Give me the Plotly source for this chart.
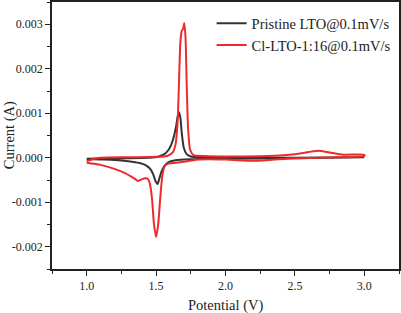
import plotly.graph_objects as go

# Pristine LTO: forward (oxidation) scan then reverse (reduction) scan
pristine_v = [1.00, 1.10, 1.30, 1.45, 1.52, 1.56, 1.59, 1.61, 1.63, 1.645, 1.655, 1.665, 1.675, 1.685, 1.70, 1.72, 1.75, 1.85, 2.0, 2.5, 3.0,
              3.0, 2.5, 2.0, 1.8, 1.7, 1.63, 1.59, 1.56, 1.54, 1.525, 1.51, 1.495, 1.48, 1.46, 1.44, 1.42, 1.38, 1.3, 1.2, 1.1, 1.0]
pristine_i = [-0.00002, -0.00001, -0.00001, 0.0, 0.00003, 0.00008, 0.00018, 0.0003, 0.0005, 0.00072, 0.00092, 0.00102, 0.0009, 0.00055, 0.00022, 0.00008, 0.00003, 0.00001, 0.0, 0.0, 0.00001,
              0.00001, -0.00001, -0.00002, -0.00003, -0.00004, -0.00006, -0.0001, -0.00018, -0.0003, -0.00045, -0.00059, -0.00052, -0.00038, -0.00026, -0.0002, -0.00016, -0.00012, -0.00008, -0.00005, -0.00004, -0.00003]

# Cl-LTO-1:16
cl_v = [1.00, 1.05, 1.10, 1.30, 1.50, 1.58, 1.62, 1.64, 1.655, 1.665, 1.675, 1.685, 1.695, 1.703, 1.712, 1.72, 1.73, 1.745, 1.77, 1.85, 2.0, 2.3, 2.5, 2.6, 2.67, 2.75, 2.85, 3.0,
        3.0, 2.8, 2.5, 2.35, 2.2, 2.0, 1.8, 1.7, 1.62, 1.58, 1.56, 1.545, 1.53, 1.515, 1.50, 1.485, 1.47, 1.455, 1.44, 1.42, 1.40, 1.37, 1.34, 1.28, 1.2, 1.1, 1.0]
cl_i = [-0.00008, -0.00003, 0.0, 0.00001, 0.00002, 0.00004, 0.00012, 0.0003, 0.0008, 0.0017, 0.0026, 0.00285, 0.0029, 0.00303, 0.0027, 0.0017, 0.0007, 0.00018, 0.00006, 0.00004, 0.00003, 0.00004, 0.00008, 0.00013, 0.00016, 0.00012, 0.00007, 0.00007,
        0.00004, 0.00001, -0.00001, -0.00004, -0.00007, -0.00004, -0.00004, -0.00009, -0.00012, -0.00014, -0.0002, -0.0004, -0.0009, -0.0015, -0.00178, -0.0015, -0.0009, -0.00058, -0.00047, -0.00046, -0.00048, -0.00052, -0.00046, -0.00035, -0.00025, -0.00016, -0.00011]

series_names = ["Pristine LTO@0.1mV/s", "Cl-LTO-1:16@0.1mV/s"]
series_colors = ["#333333", "#ee2a2a"]

x_tickvals = [1.0, 1.5, 2.0, 2.5, 3.0]
x_ticktext = ["1.0", "1.5", "2.0", "2.5", "3.0"]
y_tickvals = [-0.002, -0.001, 0.0, 0.001, 0.002, 0.003]
y_ticktext = ["-0.002", "-0.001", "0.000", "0.001", "0.002", "0.003"]

font_family = "Liberation Serif, Times New Roman, serif"

fig = go.Figure()
for v, i, name, color in [(pristine_v, pristine_i, series_names[0], series_colors[0]),
                          (cl_v, cl_i, series_names[1], series_colors[1])]:
    fig.add_trace(go.Scatter(x=v, y=i, mode="lines", name=name,
                             line=dict(color=color, width=2, shape="spline", smoothing=0.6)))

axis_common = dict(showline=True, linecolor="#222", linewidth=1.5, mirror=True,
                   ticks="outside", ticklen=5, tickwidth=1, tickcolor="#222",
                   showgrid=False, zeroline=False, automargin=False,
                   tickfont=dict(family=font_family, size=12, color="#222"))

fig.update_xaxes(range=[0.75, 3.25], tickvals=x_tickvals, ticktext=x_ticktext,
                 minor=dict(ticks="outside", ticklen=3, dtick=0.25, tick0=0.75, tickcolor="#222", showgrid=False),
                 **axis_common)
fig.update_yaxes(range=[-0.0025, 0.0035], tickvals=y_tickvals, ticktext=y_ticktext,
                 minor=dict(ticks="outside", ticklen=3, dtick=0.0005, tick0=-0.0025, tickcolor="#222", showgrid=False),
                 **axis_common)

title_font = dict(family=font_family, size=14.5, color="#222")
fig.add_annotation(text="Potential (V)", xref="paper", yref="paper", x=0.5, y=-0.135,
                   xanchor="center", yanchor="middle", showarrow=False, font=title_font)
fig.add_annotation(text="Current (A)", xref="paper", yref="paper", x=-0.122, y=0.5,
                   xanchor="center", yanchor="middle", textangle=-90, showarrow=False, font=title_font)

fig.update_layout(
    width=401, height=313,
    margin=dict(l=52, r=2, t=2, b=44),
    plot_bgcolor="white", paper_bgcolor="white",
    legend=dict(x=0.46, y=0.98, xanchor="left", yanchor="top",
                font=dict(family=font_family, size=14.5, color="#222"),
                bgcolor="rgba(0,0,0,0)", tracegroupgap=0, itemwidth=30),
    showlegend=True,
)

fig.write_html("out.html", config={"displayModeBar": False},
               post_script="document.body.style.margin='0';document.body.style.overflow='hidden';")
